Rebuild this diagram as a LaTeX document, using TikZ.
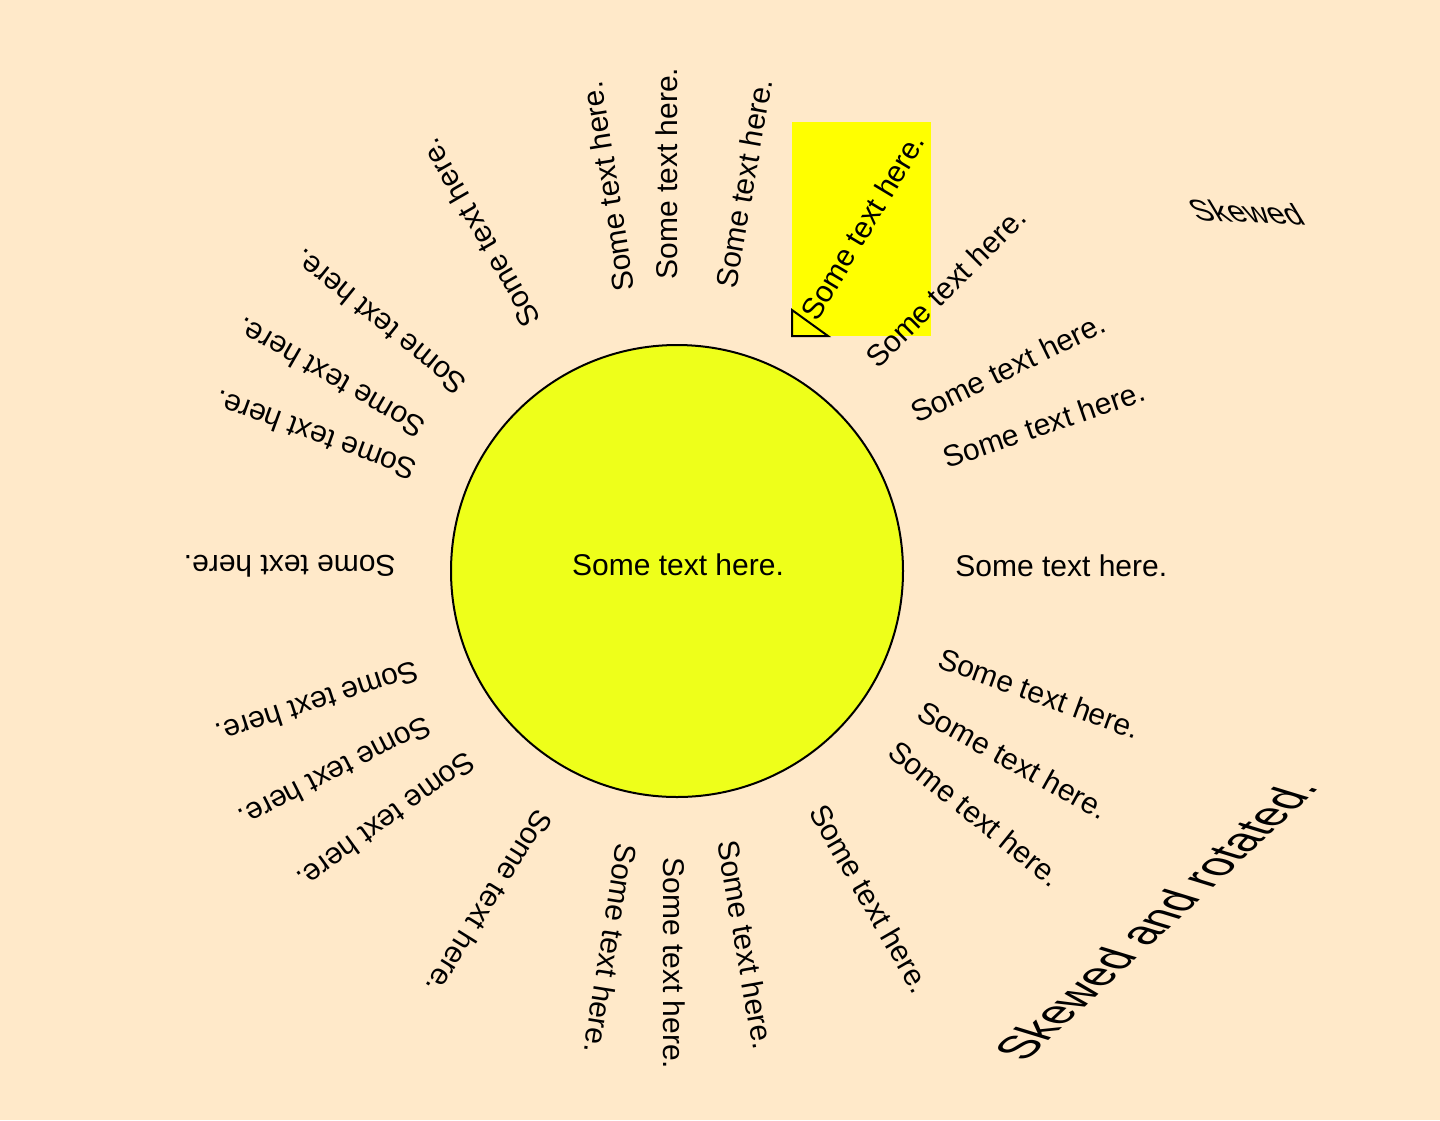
\documentclass[tikz,border=0pt]{standalone}
\usepackage{fontspec}
\setmainfont{Liberation Sans}
\definecolor{bg}{HTML}{FFE9C9}
\definecolor{sun}{HTML}{EEFF1A}
\definecolor{boxy}{HTML}{FFFF00}
\begin{document}
\begin{tikzpicture}[x=0.5pt,y=-0.5pt,
  lbl/.style={anchor=base west,inner sep=0pt,font=\fontsize{15}{18}\selectfont}]
\fill[bg] (0,0) rectangle (1440,1120);
\useasboundingbox (0,0) rectangle (1440,1120);

\fill[boxy] (792,122) rectangle (931,336);
\draw[fill=boxy,line width=1pt] (792,310) -- (792,336) -- (828,336) -- cycle;

\node[circle,draw,fill=sun,line width=1pt,minimum size=226pt,inner sep=0pt] (sun) at (677,571) {};
\node[lbl,anchor=base] (mid) at (678,575) {Some text here.};

\foreach \x/\y/\a [count=\i] in {955/576/0, 947/469/19, 917/424/26, 878/370/45,
    817/323/59, 736/290/80, 677/280/90, 635/290/99, 542/320/120, 469/381/141,
    428/422/150, 419/462/160, 396/555/180, 415/660/198, 425/715/207, 466/750/216,
    537/807/238, 617/842/261, 663/857/270, 717/842/280, 808/812/300, 886/755/321,
    915/718/331, 936/667/340}
  \node[lbl,rotate=\a] (t\i) at (\x,\y) {Some text here.};

\node[lbl,xslant=-0.6,yslant=-0.05] (skew) at (1197,220) {Skewed};
\node[lbl,font=\fontsize{22}{26}\selectfont,rotate=43,xslant=-0.577] (skewrot) at (1025,1063) {Skewed and rotated.};
\end{tikzpicture}
\end{document}
